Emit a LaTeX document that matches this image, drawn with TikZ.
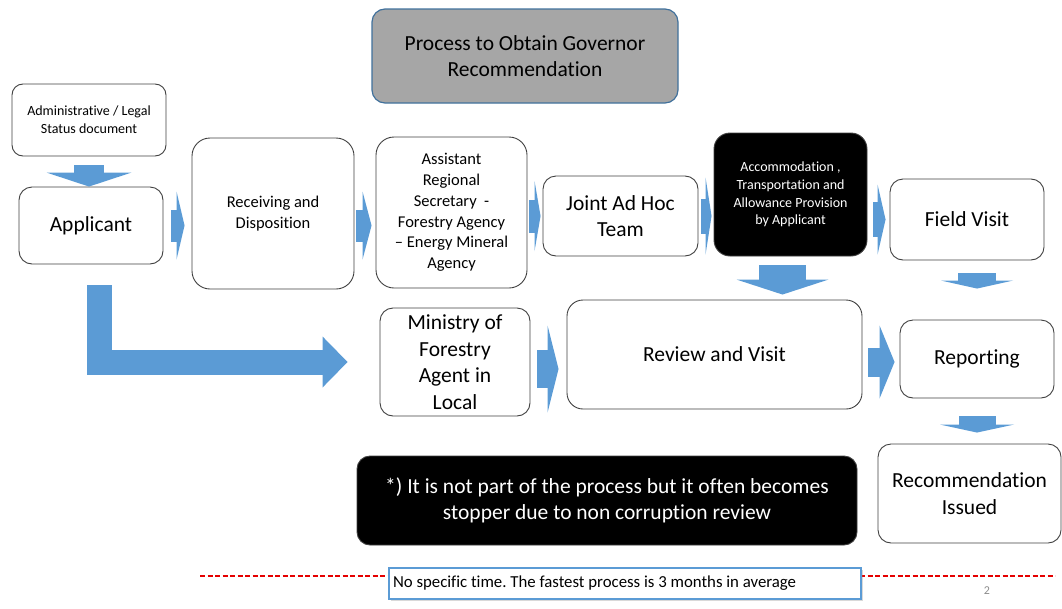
\documentclass[tikz,border=0pt]{standalone}
\usepackage{fontspec}
\setmainfont{Carlito}[Ligatures=NoCommon]
\usetikzlibrary{arrows.meta,shadows}

\definecolor{flowblue}{RGB}{91,155,213}
\definecolor{titlegray}{RGB}{166,166,166}
\definecolor{titleedge}{RGB}{65,113,156}
\newcommand\bigtxt{\fontsize{21.5}{26.5}\selectfont}
\newcommand\midtxt{\fontsize{16.5}{20.8}\selectfont}
\newcommand\smalltxt{\fontsize{14}{17.8}\selectfont}
\frenchspacing

\tikzset{
  box/.style={draw=black!75, line width=0.9pt, fill=white, rounded corners=13pt,
    align=center, inner sep=2pt},
  blackbox/.style={box, fill=black, text=white},
  flow/.style n args={3}{draw=flowblue, line width=#1,
    -{Triangle[length=#2, width=#3, line width=0pt]}}
}

\begin{document}
\begin{tikzpicture}[x=1pt, y=-1pt]
  \useasboundingbox (0,0) rectangle (1062,608);

  % boxes
  \node[box, fill=titlegray, draw=titleedge, line width=1.2pt, minimum width=306pt,
    minimum height=94pt, font=\bigtxt] (title) at (525,56)
    {Process to Obtain Governor\\Recommendation};
  \node[box, rounded corners=11pt, minimum width=154pt, minimum height=72pt,
    font=\smalltxt] (admin) at (89,120) {Administrative / Legal\\Status document};
  \node[box, minimum width=144pt, minimum height=77pt, font=\bigtxt]
    (applicant) at (91,225.5) {Applicant};
  \node[box, rounded corners=18pt, minimum width=162pt, minimum height=151pt,
    font=\midtxt] (receiving) at (273,213.5) {Receiving and\\Disposition};
  \node[box, rounded corners=18pt, minimum width=151pt, minimum height=151pt,
    font=\midtxt] (assistant) at (451.5,212.5)
    {Assistant\\Regional\\Secretary~~-\\Forestry Agency\\– Energy Mineral\\Agency};
  \node[box, minimum width=155pt, minimum height=80pt, font=\bigtxt]
    (joint) at (620.5,216) {Joint Ad Hoc\\Team};
  \node[blackbox, rounded corners=16pt, minimum width=153pt, minimum height=123pt,
    font=\smalltxt] (accom) at (790.5,194.5)
    {Accommodation ,\\Transportation and\\Allowance Provision\\by Applicant};
  \node[box, minimum width=154pt, minimum height=81pt, font=\bigtxt]
    (field) at (967,219.5) {Field Visit};
  \node[box, minimum width=150pt, minimum height=108pt, font=\bigtxt]
    (ministry) at (455,362) {Ministry of\\Forestry\\Agent in\\Local};
  \node[box, rounded corners=16pt, minimum width=295pt, minimum height=109pt,
    font=\bigtxt] (review) at (714.5,354.5) {Review and Visit};
  \node[box, minimum width=154pt, minimum height=78pt, font=\bigtxt]
    (reporting) at (977,359) {Reporting};
  \node[box, minimum width=183pt, minimum height=99pt, font=\bigtxt]
    (recommend) at (969.5,493.5) {Recommendation\\Issued};
  \node[blackbox, minimum width=500pt, minimum height=89pt, font=\bigtxt]
    (stopper) at (607,500.5)
    {*) It is not part of the process but it often becomes\\stopper due to non corruption review};

  % block arrows
  \draw[flow={30pt}{14pt}{85pt}, shorten <=9pt]
    (admin.south) -- (admin.south |- applicant.north);
  \draw[flow={32pt}{8pt}{68pt}, shorten <=8pt, shorten >=7pt]
    (applicant.east) -- (applicant.east -| receiving.west);
  \draw[flow={32pt}{9pt}{68pt}, shorten <=2pt, shorten >=4pt]
    (applicant.east -| receiving.east) -- (applicant.east -| assistant.west);
  \draw[flow={33pt}{6pt}{70pt}, shorten <=2pt, shorten >=2pt]
    (assistant.east |- joint.west) -- (joint.west);
  \draw[flow={35pt}{6pt}{77pt}, shorten <=3pt, shorten >=2pt]
    (joint.east) -- (joint.east -| accom.west);
  \draw[flow={35pt}{8pt}{70pt}, shorten <=6pt, shorten >=4pt]
    (accom.east |- field.west) -- (field.west);
  \draw[flow={47pt}{15pt}{92pt}, shorten <=9pt, shorten >=5pt]
    ([xshift=-8pt]accom.south) -- ([xshift=-8pt]accom.south |- review.north);
  \draw[flow={38pt}{8pt}{72pt}, shorten <=13pt, shorten >=31pt]
    (reporting.north |- field.south) -- (reporting.north);
  \path ([yshift=-7pt]ministry.east) coordinate (minout);
  \draw[flow={38pt}{11pt}{87pt}, shorten <=7pt, shorten >=8pt]
    (minout) -- (minout -| review.west);
  \draw[flow={29pt}{15pt}{73pt}, shorten <=6pt, shorten >=5pt]
    ([yshift=-3pt]review.east |- reporting.west) -- ([yshift=-3pt]reporting.west);
  \draw[flow={37pt}{8pt}{74pt}, shorten <=18pt, shorten >=11pt]
    (reporting.south) -- (reporting.south |- recommend.north);
  \draw[flow={25pt}{25pt}{51pt}, shorten <=21pt, shorten >=32pt]
    ([xshift=8.5pt]applicant.south) |- (ministry.west);

  % timing note
  \coordinate (dashl) at (200,576);
  \coordinate (dashr) at (1055,576);
  \draw[red!90!black, line width=2pt, dash pattern=on 5pt off 2.5pt] (dashl) -- (dashr);
  \node[draw=flowblue, line width=1.5pt, fill=white, text width=464pt, align=flush left,
    inner xsep=4pt, minimum height=31pt, font=\fontsize{16.8}{20}\selectfont,
    drop shadow={shadow xshift=1.5pt, shadow yshift=-1.5pt, opacity=.3}]
    (timenote) at (625,583.5)
    {No specific time. The fastest process is 3 months in average};
  \node[text=black!45, font=\fontsize{12}{14}\selectfont] (pagenum) at (987,591) {2};
\end{tikzpicture}
\end{document}
